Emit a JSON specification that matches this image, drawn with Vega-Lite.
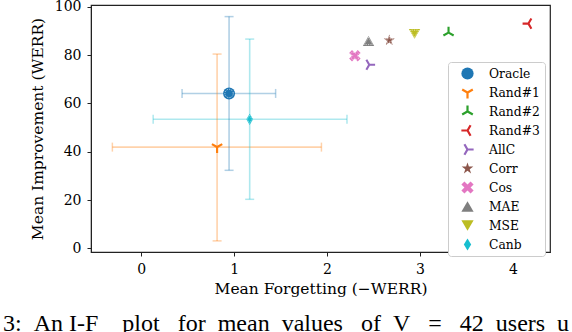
{
  "$schema": "https://vega.github.io/schema/vega-lite/v6.json",
  "width": 459,
  "height": 247,
  "autosize": {"type": "none"},
  "padding": {"left": 91, "top": 5, "right": 22, "bottom": 80},
  "background": "white",
  "config": {
    "view": {"stroke": "#222222", "strokeWidth": 1.2},
    "axis": {
      "labelFont": "DejaVu Serif", "labelFontSize": 14, "labelColor": "#000000",
      "titleFont": "DejaVu Serif", "titleFontSize": 15.5, "titleFontWeight": "normal", "titleColor": "#000000",
      "tickColor": "#222222", "domainColor": "#222222", "tickSize": 4, "tickWidth": 1, "grid": false, "labelPadding": 6
    },
    "title": {"color": "#000000"}
  },
  "title": {
    "text": "3:\u00a0\u00a0An I-F\u00a0\u00a0\u00a0\u00a0plot\u00a0\u00a0\u00a0for\u00a0\u00a0mean\u00a0\u00a0values\u00a0\u00a0\u00a0of\u00a0\u00a0V\u00a0\u00a0\u00a0=\u00a0\u00a0\u00a042\u00a0\u00a0users\u00a0\u00a0u",
    "orient": "bottom", "anchor": "start", "frame": "group", "offset": 34, "dx": -88,
    "font": "Liberation Serif", "fontSize": 24, "fontWeight": "normal", "color": "#000000", "baseline": "alphabetic"
  },
  "datasets": {
    "pts": [
      {"method": "Oracle", "x": 0.946, "y": 64.1},
      {"method": "Rand#1", "x": 0.817, "y": 41.9},
      {"method": "Rand#2", "x": 3.308, "y": 89.3},
      {"method": "Rand#3", "x": 4.168, "y": 93.0},
      {"method": "AllC", "x": 2.455, "y": 76.0},
      {"method": "Corr", "x": 2.67, "y": 86.1},
      {"method": "Cos", "x": 2.30, "y": 79.7},
      {"method": "MAE", "x": 2.447, "y": 85.8},
      {"method": "MSE", "x": 2.942, "y": 88.8},
      {"method": "Canb", "x": 1.168, "y": 53.4}
    ],
    "errs": [
      {"method": "Oracle", "x": 0.946, "y": 64.1, "xlo": 0.44, "xhi": 1.447, "ylo": 32.3, "yhi": 95.9},
      {"method": "Rand#1", "x": 0.817, "y": 41.9, "xlo": -0.31, "xhi": 1.94, "ylo": 3.1, "yhi": 80.4},
      {"method": "Canb", "x": 1.168, "y": 53.4, "xlo": 0.129, "xhi": 2.215, "ylo": 20.3, "yhi": 86.6}
    ]
  },
  "resolve": {"scale": {"size": "independent"}},
  "layer": [
    {
      "data": {"name": "errs"},
      "mark": {"type": "rule", "strokeWidth": 1.6, "strokeOpacity": 0.35},
      "encoding": {
        "x": {"field": "xlo", "type": "quantitative", "scale": {"domain": [-0.54, 4.4], "nice": false, "zero": false}, "axis": {"values": [0, 1, 2, 3, 4], "format": "d", "title": "Mean Forgetting (\u2212WERR)", "titlePadding": 5}},
        "x2": {"field": "xhi"},
        "y": {"field": "y", "type": "quantitative", "scale": {"domain": [-1.5, 100.7], "nice": false, "zero": false}, "axis": {"values": [0, 20, 40, 60, 80, 100], "format": "d", "title": "Mean Improvement (WERR)", "titlePadding": 9}},
        "stroke": {"field": "method", "type": "nominal", "legend": null, "scale": {"domain": ["Oracle", "Rand#1", "Canb"], "range": ["#1f77b4", "#ff7f0e", "#17becf"]}}
      }
    },
    {
      "data": {"name": "errs"},
      "mark": {"type": "rule", "strokeWidth": 1.6, "strokeOpacity": 0.35},
      "encoding": {
        "x": {"field": "x", "type": "quantitative"},
        "y": {"field": "ylo", "type": "quantitative"},
        "y2": {"field": "yhi"},
        "stroke": {"field": "method", "type": "nominal", "legend": null}
      }
    },
    {
      "data": {"name": "errs"},
      "mark": {"type": "tick", "orient": "vertical", "size": 9, "thickness": 1.5, "fillOpacity": 0.35},
      "encoding": {
        "x": {"field": "xlo", "type": "quantitative"},
        "y": {"field": "y", "type": "quantitative"},
        "fill": {"field": "method", "type": "nominal", "legend": null, "scale": {"domain": ["Oracle", "Rand#1", "Canb"], "range": ["#1f77b4", "#ff7f0e", "#17becf"]}}
      }
    },
    {
      "data": {"name": "errs"},
      "mark": {"type": "tick", "orient": "vertical", "size": 9, "thickness": 1.5, "fillOpacity": 0.35},
      "encoding": {
        "x": {"field": "xhi", "type": "quantitative"},
        "y": {"field": "y", "type": "quantitative"},
        "fill": {"field": "method", "type": "nominal", "legend": null}
      }
    },
    {
      "data": {"name": "errs"},
      "mark": {"type": "tick", "orient": "horizontal", "size": 9, "thickness": 1.5, "fillOpacity": 0.35},
      "encoding": {
        "x": {"field": "x", "type": "quantitative"},
        "y": {"field": "ylo", "type": "quantitative"},
        "fill": {"field": "method", "type": "nominal", "legend": null}
      }
    },
    {
      "data": {"name": "errs"},
      "mark": {"type": "tick", "orient": "horizontal", "size": 9, "thickness": 1.5, "fillOpacity": 0.35},
      "encoding": {
        "x": {"field": "x", "type": "quantitative"},
        "y": {"field": "yhi", "type": "quantitative"},
        "fill": {"field": "method", "type": "nominal", "legend": null}
      }
    },
    {
      "data": {"name": "pts"},
      "mark": {"type": "point", "filled": true, "opacity": 1, "strokeWidth": 0},
      "encoding": {
        "x": {"field": "x", "type": "quantitative"},
        "y": {"field": "y", "type": "quantitative"},
        "color": {
          "field": "method", "type": "nominal",
          "scale": {
            "domain": ["Oracle", "Rand#1", "Rand#2", "Rand#3", "AllC", "Corr", "Cos", "MAE", "MSE", "Canb"],
            "range": ["#1f77b4", "#ff7f0e", "#2ca02c", "#d62728", "#9467bd", "#8c564b", "#e377c2", "#7f7f7f", "#bcbd22", "#17becf"]
          },
          "legend": {
            "title": null, "orient": "none", "legendX": 357, "legendY": 57,
            "padding": 5, "symbolOffset": 8, "labelOffset": 15, "rowPadding": 6,
            "strokeColor": "#cccccc", "fillColor": "#ffffff", "cornerRadius": 3,
            "labelFont": "DejaVu Serif", "labelFontSize": 12.3, "labelColor": "#000000",
            "symbolSize": 150, "symbolOpacity": 1, "symbolStrokeWidth": 0
          }
        },
        "shape": {
          "field": "method", "type": "nominal",
          "scale": {
            "domain": ["Oracle", "Rand#1", "Rand#2", "Rand#3", "AllC", "Corr", "Cos", "MAE", "MSE", "Canb"],
            "range": [
              "circle",
              "M0.18,0.104L0.18,1L-0.18,1L-0.18,0.104L-0.956,-0.344L-0.776,-0.656L0,-0.208L0.776,-0.656L0.956,-0.344Z",
              "M0.18,-0.104L0.18,-1L-0.18,-1L-0.18,-0.104L-0.956,0.344L-0.776,0.656L0,0.208L0.776,0.656L0.956,0.344Z",
              "M-0.104,0.18L-1,0.18L-1,-0.18L-0.104,-0.18L0.344,-0.956L0.656,-0.776L0.208,0L0.656,0.776L0.344,0.956Z",
              "M0.104,0.18L1,0.18L1,-0.18L0.104,-0.18L-0.344,-0.956L-0.656,-0.776L-0.208,0L-0.656,0.776L-0.344,0.956Z",
              "M0,-1L0.225,-0.309L0.951,-0.309L0.363,0.118L0.588,0.809L0,0.382L-0.588,0.809L-0.363,0.118L-0.951,-0.309L-0.225,-0.309Z",
              "M-0.5,1L0,0.5L0.5,1L1,0.5L0.5,0L1,-0.5L0.5,-1L0,-0.5L-0.5,-1L-1,-0.5L-0.5,0L-1,0.5Z",
              "triangle-up",
              "triangle-down",
              "M0,-1L0.6,0L0,1L-0.6,0Z"
            ]
          }
        },
        "size": {
          "field": "method", "type": "nominal", "legend": null,
          "scale": {
            "domain": ["Oracle", "Rand#1", "Rand#2", "Rand#3", "AllC", "Corr", "Cos", "MAE", "MSE", "Canb"],
            "range": [144, 125, 125, 125, 125, 190, 150, 180, 180, 169]
          }
        }
      }
    },
    {
      "data": {"name": "pts"},
      "transform": [{"filter": {"field": "method", "oneOf": ["Oracle", "Corr", "Cos", "MAE", "MSE", "Canb"]}}],
      "mark": {"type": "point", "filled": false, "stroke": "#ffffff", "strokeWidth": 0.7, "strokeDash": [1.2, 1.2], "opacity": 0.9},
      "encoding": {
        "x": {"field": "x", "type": "quantitative"},
        "y": {"field": "y", "type": "quantitative"},
        "shape": {"field": "method", "type": "nominal"},
        "size": {
          "field": "method", "type": "nominal", "legend": null,
          "scale": {
            "domain": ["Oracle", "Corr", "Cos", "MAE", "MSE", "Canb"],
            "range": [70, 70, 70, 70, 70, 80]
          }
        }
      }
    }
  ]
}
